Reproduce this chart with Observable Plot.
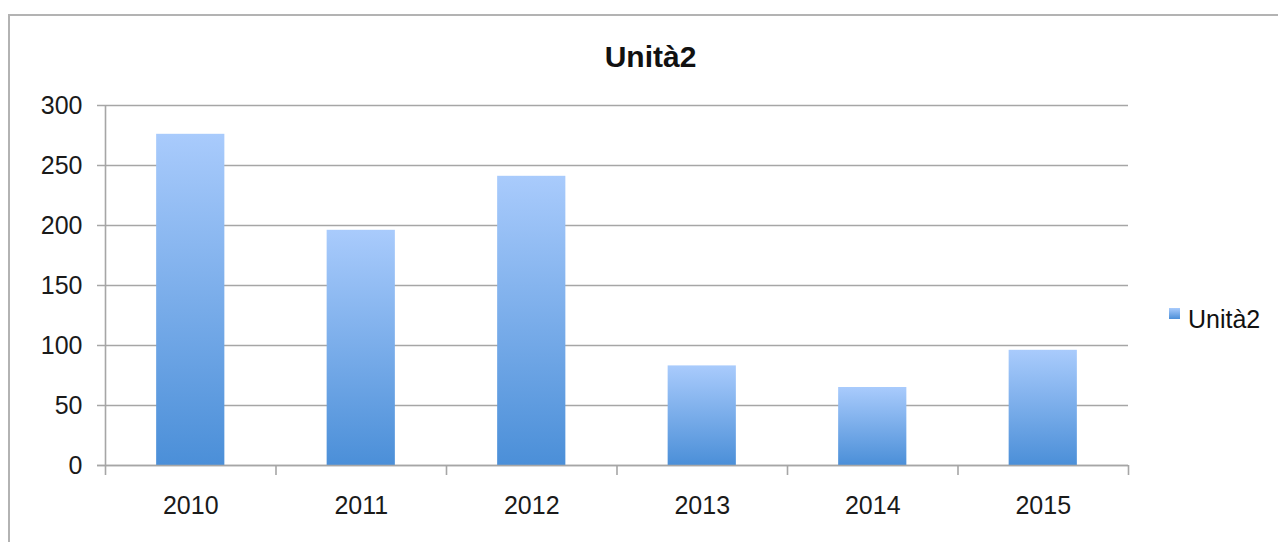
<!DOCTYPE html>
<html>
<head>
<meta charset="utf-8">
<script src="https://cdn.jsdelivr.net/npm/d3@7"></script>
<script src="https://cdn.jsdelivr.net/npm/@observablehq/plot@0.6"></script>
<style>
  html, body { margin: 0; padding: 0; background: #fff; overflow: hidden; width: 1278px; height: 542px; }
  #wrap { position: relative; width: 1278px; height: 542px; font-family: "Liberation Sans", Arial, sans-serif; }
  #frame { position: absolute; left: 8px; top: 14px; width: 1400px; height: 700px; border: 2px solid #b3b3b3; box-sizing: border-box; }
  #title { position: absolute; left: 0; width: 1301px; top: 42px; line-height: 30px; text-align: center; font-size: 30px; font-weight: bold; color: #111; }
  #legend-sw { position: absolute; left: 1169px; top: 308px; width: 11px; height: 11px; background: linear-gradient(#a9cbfc, #4b8fd8); }
  #legend-tx { position: absolute; left: 1188px; top: 307px; font-size: 25px; line-height: 25px; color: #111; white-space: nowrap; }
  #chart { position: absolute; left: 0; top: 0; }
</style>
</head>
<body>
<div id="wrap">
  <div id="frame"></div>
  <div id="chart"></div>
  <div id="title"></div>
  <div id="legend-sw"></div>
  <div id="legend-tx"></div>
</div>
<script>
const years = [2010, 2011, 2012, 2013, 2014, 2015];
const values = [276, 196, 241, 83, 65, 96];
const yTicks = [0, 50, 100, 150, 200, 250, 300];
const seriesName = "Unità2";
const chartTitle = "Unità2";

document.getElementById("title").textContent = chartTitle;
document.getElementById("legend-tx").textContent = seriesName;

const data = years.map((y, i) => ({year: y, value: values[i]}));
const bounds = [years[0] - 0.5, ...years.map(y => y + 0.5)];

const plot = Plot.plot({
  width: 1278,
  height: 542,
  marginLeft: 105,
  marginRight: 150,
  marginTop: 105,
  marginBottom: 77,
  style: {fontFamily: "Liberation Sans, Arial, sans-serif", fontSize: "25px", color: "#1a1a1a", background: "transparent"},
  x: {type: "linear", domain: [years[0] - 0.5, years[years.length - 1] + 0.5]},
  y: {domain: [0, 300]},
  marks: [
    Plot.ruleY(yTicks, {stroke: "#a6a6a6", strokeWidth: 1.6, insetLeft: -8}),
    Plot.rectY(data, {x1: d => d.year - 0.2, x2: d => d.year + 0.2, y: "value", fill: "url(#barGrad)"}),
    Plot.ruleX([bounds[0]], {y1: 0, y2: 300, stroke: "#a6a6a6", strokeWidth: 1.6}),
    Plot.ruleY([0], {stroke: "#a6a6a6", strokeWidth: 1.6, insetLeft: -8}),
    Plot.axisX({ticks: bounds, tickFormat: () => "", tickSize: 10, stroke: "#a6a6a6", strokeWidth: 1.6, label: null}),
    Plot.axisX({ticks: years, tickFormat: d => String(d), tickSize: 0, tickPadding: 31, label: null, fill: "#1a1a1a", fontSize: 25}),
    Plot.axisY({ticks: yTicks, tickSize: 0, tickPadding: 23, label: null, fill: "#1a1a1a", fontSize: 25})
  ]
});

d3.select(plot).insert("defs", ":first-child").html(
  '<linearGradient id="barGrad" x1="0" y1="0" x2="0" y2="1">' +
  '<stop offset="0" stop-color="#a9cbfc"/>' +
  '<stop offset="1" stop-color="#4b8fd8"/>' +
  '</linearGradient>'
);

document.getElementById("chart").appendChild(plot);
</script>
</body>
</html>
